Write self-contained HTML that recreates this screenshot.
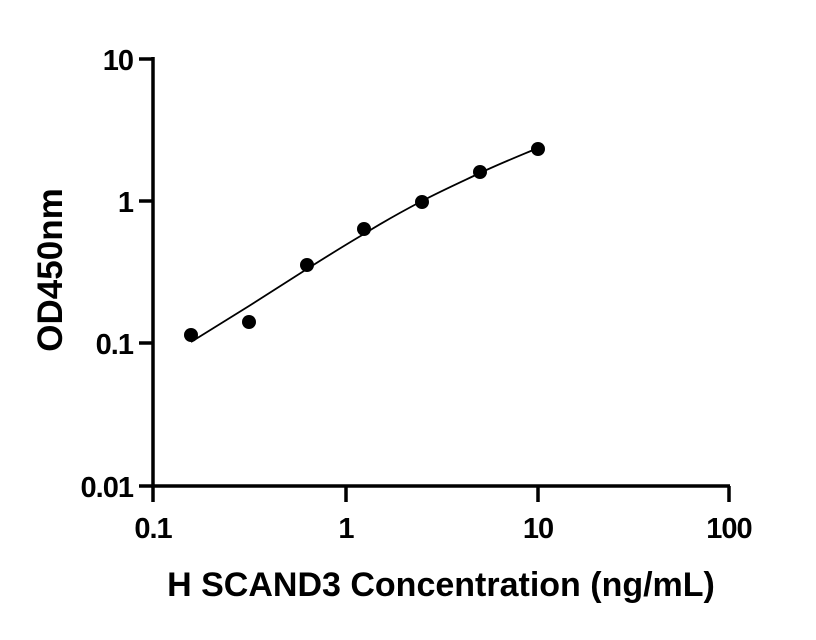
<!DOCTYPE html>
<html><head><style>body{margin:0;background:#fff}svg{display:block}</style></head><body>
<svg width="816" height="640" viewBox="0 0 816 640" xmlns="http://www.w3.org/2000/svg" font-family="Liberation Sans, Arial, sans-serif" font-weight="bold">
<g stroke="#000" stroke-width="3.5" fill="none">
<path d="M153,57 V486 H730"/>
<path d="M139,59 H153 M139,201 H153 M139,343 H153 M139,486 H153"/>
<path d="M153,486 V502 M346,486 V502 M538,486 V502 M729,486 V502"/>
</g>
<path d="M191,342 C210,330 230,318 249,306 C268,294 288,281 307,269 C326,257 345,245 364,234 C383,222 403,211 422,201 C441,191 461,182 480,173 C499,164 519,156 538,148" stroke="#000" stroke-width="1.8" fill="none"/>
<g fill="#000">
<circle cx="191" cy="335" r="7"/><circle cx="249" cy="322" r="7"/><circle cx="307" cy="265" r="7"/><circle cx="364" cy="229" r="7"/><circle cx="422" cy="202" r="7"/><circle cx="480" cy="172" r="7"/><circle cx="538" cy="149" r="7"/>
</g>
<g font-size="29" text-anchor="end" letter-spacing="-1">
<text x="133" y="70">10</text><text x="133" y="212">1</text><text x="133" y="354">0.1</text><text x="133" y="497">0.01</text>
</g>
<g font-size="29" text-anchor="middle" letter-spacing="-1">
<text x="153" y="538">0.1</text><text x="346" y="538">1</text><text x="538" y="538">10</text><text x="729" y="538">100</text>
</g>
<text x="441" y="596" font-size="34" text-anchor="middle">H SCAND3 Concentration (ng/mL)</text>
<text transform="translate(62,270) rotate(-90)" font-size="35" text-anchor="middle">OD450nm</text>
</svg>
</body></html>
